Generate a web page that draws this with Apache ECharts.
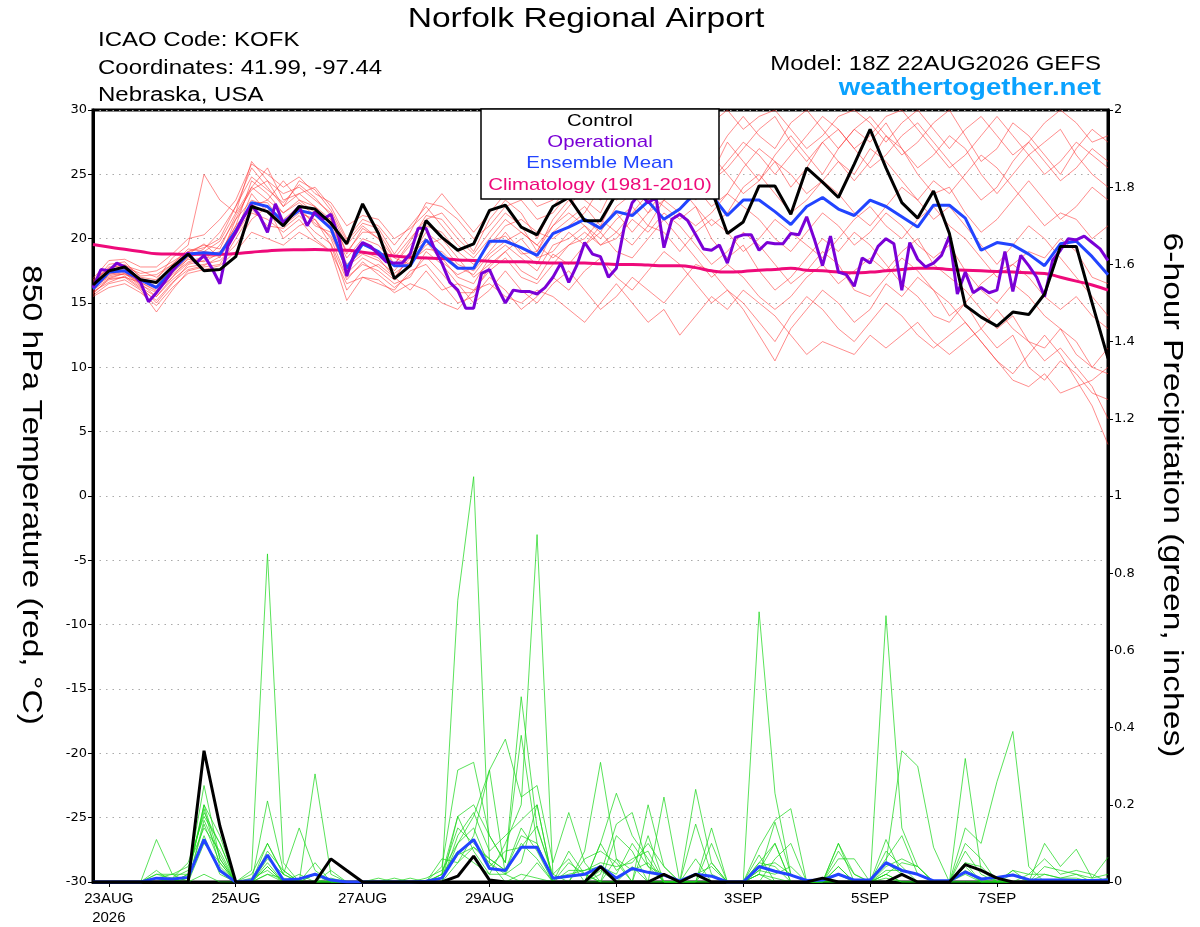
<!DOCTYPE html>
<html><head><meta charset="utf-8">
<script src="https://cdn.jsdelivr.net/npm/echarts@6/dist/echarts.min.js"></script>
<style>html,body{margin:0;padding:0;background:#fff}#c{width:1200px;height:927px}</style>
</head><body><div id="c"></div>
<script>
// ---- data (hours since 22AUG2026 18Z) ----
const xTickHours = [6,54,102,150,198,246,294,342];
const xTickLabels = ['23AUG\n2026','25AUG','27AUG','29AUG','1SEP','3SEP','5SEP','7SEP'];
const stepEns = 6;   // ensemble output every 6 h
const stepOper = 3;  // operational every 3 h

const control = [16.4,17.5,17.8,16.8,16.6,17.8,18.8,17.5,17.6,18.6,22.5,22.1,21.0,22.5,22.3,21.2,19.6,22.7,20.4,16.9,17.9,21.4,20.1,19.1,19.6,22.2,22.6,20.9,20.3,22.5,23.2,21.4,21.4,23.5,24.5,24.0,24.8,24.2,23.6,23.8,20.4,21.3,24.1,24.1,21.9,25.5,24.4,23.2,25.8,28.5,25.5,22.8,21.6,23.7,20.4,14.8,13.9,13.2,14.3,14.1,15.7,19.4,19.4,15.0,10.7];
const ensMean = [16.1,17.4,17.5,16.8,16.2,17.5,18.8,18.9,18.8,20.6,22.8,22.5,21.3,22.2,21.9,20.8,17.7,19.6,19.0,17.9,17.9,19.9,18.7,17.7,17.7,19.8,19.8,19.3,18.7,20.4,20.9,21.5,20.8,22.1,21.8,22.9,21.5,22.3,23.6,23.4,21.8,23.0,23.0,22.1,21.1,22.5,23.2,22.3,21.8,23.0,22.5,21.7,20.9,22.6,22.6,21.6,19.1,19.7,19.5,18.8,17.9,19.6,19.8,18.6,17.2];
const climatology = [19.55,19.35,19.17,19.0,18.83,18.8,18.78,18.78,18.78,18.85,18.95,19.05,19.12,19.14,19.15,19.12,19.1,18.95,18.8,18.65,18.55,18.5,18.45,18.35,18.3,18.25,18.2,18.2,18.15,18.1,18.1,18.1,18.05,18.0,18.0,17.95,17.9,17.9,17.75,17.5,17.4,17.45,17.55,17.6,17.7,17.55,17.5,17.4,17.35,17.4,17.5,17.6,17.7,17.7,17.6,17.55,17.5,17.45,17.4,17.35,17.3,17.0,16.7,16.4,16.0];
const operational = [16.2,17.6,17.5,18.1,17.8,17.3,16.6,15.1,15.8,16.6,17.5,18.3,18.9,18.1,18.7,17.7,16.5,19.4,20.5,21.7,22.6,21.8,20.5,22.7,21.2,21.8,22.5,21.0,22.1,21.5,21.9,20.1,17.1,18.9,19.7,19.4,18.8,18.2,18.1,18.1,18.8,20.8,20.8,19.3,18.1,16.6,16.0,14.6,14.6,17.3,17.6,16.2,15.0,16.0,15.9,15.9,15.7,16.2,17.0,18.1,16.6,17.9,19.7,18.8,18.6,17.0,17.7,20.9,22.8,23.5,22.8,23.2,19.3,21.5,21.9,21.4,20.3,19.2,19.1,19.5,18.1,20.1,20.3,20.3,19.1,19.7,19.6,19.6,20.4,20.3,21.7,19.9,17.9,20.2,17.4,17.2,16.3,18.5,18.1,19.4,20.0,19.6,16.0,19.7,18.4,17.8,18.1,18.7,20.2,15.7,17.4,15.8,16.2,15.8,16.0,19.0,15.9,18.7,17.9,17.0,15.5,18.3,19.1,20.0,19.9,20.2,19.7,19.2,18.3];

const memberTemp1 = [16.0,17.2,17.5,16.5,15.5,17.0,18.5,19.0,18.8,21.0,24.5,23.5,22.0,23.0,22.5,21.5,18.0,19.0,18.5,17.0,18.5,20.5,19.5,18.0,17.5,19.0,20.5,19.0,18.0,20.5,21.5,22.5,21.0,23.5,24.5,23.0,25.0,26.5,24.0,22.5,23.5,25.5,27.0,26.0,24.0,25.5,27.5,26.0,24.5,26.0,28.0,27.0,25.0,23.5,24.0,22.0,20.5,21.5,23.0,24.5,23.0,21.5,22.5,24.0,23.0];
const memberTemp2 = [15.6,16.5,16.8,16.0,14.3,16.0,17.5,17.8,18.0,20.0,22.0,21.5,20.5,21.5,20.0,19.0,15.2,17.0,16.5,16.0,17.5,18.0,16.5,15.0,15.5,17.0,16.0,14.5,15.5,17.0,16.0,17.5,18.5,17.0,16.0,17.5,19.0,18.0,16.5,15.0,16.0,14.5,12.5,10.5,13.0,14.5,16.0,15.0,13.5,14.5,16.5,15.5,17.0,16.0,14.0,15.0,13.0,11.5,12.5,10.0,9.0,10.5,9.5,8.0,7.5];
const memberTemp3 = [16.5,18.0,18.2,17.0,16.8,18.5,19.5,25.0,23.0,22.0,26.0,24.5,23.5,24.0,23.0,22.0,19.5,21.0,20.0,18.5,20.0,21.5,22.0,20.5,19.0,21.5,23.0,22.0,20.0,22.5,24.0,23.0,22.0,24.5,26.0,25.0,27.0,28.5,27.5,26.0,28.0,29.5,28.0,27.0,29.0,30.0,28.5,27.0,28.5,29.5,28.0,26.5,27.5,29.0,30.0,28.0,26.0,27.0,29.0,28.0,26.5,25.0,27.0,28.5,27.5];
const memberTemp4 = [16.2,17.0,17.3,16.3,15.0,16.5,18.0,18.3,19.5,21.5,23.0,22.5,21.0,22.0,21.5,20.0,17.0,18.0,17.5,16.5,17.0,19.0,18.0,16.5,16.0,17.5,18.5,17.0,16.5,18.0,19.5,20.5,19.5,20.0,21.5,20.5,22.0,21.0,19.5,18.0,19.0,20.5,19.5,18.0,16.5,17.5,19.0,18.0,16.0,15.5,17.0,18.5,17.5,16.0,15.0,13.5,12.0,10.5,9.5,11.0,12.5,11.0,9.0,7.0,4.0];
const memberTemp5 = [16.8,17.6,17.8,17.3,17.5,18.2,19.0,19.3,20.0,22.5,25.5,24.0,22.5,23.5,24.0,22.5,20.0,21.5,21.0,19.5,21.0,22.5,21.0,19.5,18.5,20.0,21.5,20.5,19.5,21.0,22.5,24.0,23.0,24.5,25.5,24.0,26.0,25.0,23.0,24.5,26.0,27.5,26.5,25.0,26.5,28.0,29.5,28.5,27.0,25.5,26.5,28.0,29.0,27.5,26.0,24.5,23.0,24.0,26.0,27.5,26.0,24.5,25.5,27.0,26.0];
const memberTemp6 = [15.8,16.8,17.0,16.6,16.0,17.2,18.2,18.6,19.0,20.5,23.5,22.0,21.5,22.5,21.0,20.5,17.5,19.5,19.0,17.5,19.0,20.0,18.5,17.0,16.5,18.5,19.5,18.5,17.5,19.5,20.0,21.0,20.0,21.5,22.5,21.0,23.0,22.0,21.0,22.0,23.5,22.5,21.5,20.0,19.0,20.5,22.0,21.0,19.5,20.5,22.0,21.0,19.5,18.5,19.5,17.5,16.0,15.0,16.5,15.5,14.0,13.0,12.0,10.0,9.5];
const memberTemp7 = [16.4,17.4,17.6,16.8,16.3,17.6,18.8,19.6,18.5,21.5,24.0,25.5,23.0,23.5,22.5,21.0,18.5,20.0,19.5,18.0,19.5,21.0,20.5,19.0,18.0,19.5,21.0,21.5,20.5,20.0,21.0,22.0,24.0,23.0,24.0,25.5,24.5,23.5,25.0,26.5,25.0,23.5,24.5,26.0,25.0,23.5,24.5,26.0,25.0,27.0,26.0,24.5,23.0,24.5,23.5,25.0,26.5,25.5,24.0,22.5,21.0,22.0,21.5,20.0,21.0];
const memberTemp8 = [15.9,16.6,17.1,16.2,15.5,16.8,17.8,18.0,18.3,19.5,21.5,22.5,20.0,21.0,21.5,19.5,16.0,17.5,18.0,17.0,16.0,17.5,16.0,16.5,15.0,16.0,17.5,16.0,15.0,16.5,17.5,16.0,14.5,15.5,17.0,16.0,15.0,16.5,18.0,17.5,16.0,15.0,13.5,12.0,14.0,15.5,14.5,13.0,12.0,13.5,15.0,14.0,12.5,11.5,12.5,13.5,12.0,10.5,9.0,8.5,9.5,8.0,8.5,9.0,10.0];
const memberTemp9 = [16.6,17.8,17.9,17.5,17.0,18.0,19.2,19.0,19.8,22.0,24.0,23.0,24.5,23.0,22.0,21.5,19.0,20.5,20.5,18.5,18.0,19.5,20.0,18.5,17.0,18.0,19.0,20.0,18.5,19.0,20.5,19.5,21.0,22.0,20.5,22.0,23.0,24.0,22.5,21.0,22.0,24.0,25.0,23.5,22.0,23.0,24.5,23.5,22.0,21.0,22.5,24.0,23.0,21.5,22.5,21.0,19.5,18.0,19.5,21.0,20.0,18.5,17.0,15.5,14.0];
const memberTemp10 = [16.1,17.3,17.2,16.9,16.6,17.4,18.4,18.2,18.9,21.0,22.5,23.0,22.0,22.8,21.8,20.8,17.3,18.5,17.8,16.8,18.8,19.8,18.2,17.2,17.8,19.8,20.2,18.8,19.0,21.0,22.0,21.0,19.5,20.5,22.0,23.5,22.5,21.5,22.5,20.0,18.5,19.5,17.5,16.0,17.0,18.5,20.0,19.0,20.5,19.5,18.0,16.5,15.5,14.0,13.5,15.0,16.5,17.5,18.0,19.0,18.5,20.0,19.0,17.0,16.5];
const memberTemp11 = [15.5,16.2,16.5,15.8,14.8,16.2,17.3,17.6,17.9,19.0,20.5,20.0,19.5,20.5,19.8,19.0,16.5,17.0,16.8,15.8,16.5,16.0,15.0,14.5,16.0,16.5,15.5,15.0,16.0,15.5,14.5,13.5,15.0,16.5,15.0,13.5,14.5,12.5,14.0,15.5,14.5,16.0,15.0,14.0,12.5,11.0,12.0,11.5,11.0,12.5,11.5,12.5,13.5,12.0,11.0,12.0,13.0,14.5,13.0,12.0,11.5,13.0,11.0,10.0,11.5];
const memberTemp12 = [16.9,18.3,18.4,17.8,17.8,18.8,20.0,20.3,21.5,23.0,25.8,25.0,24.0,24.8,23.5,22.8,21.0,21.8,21.5,20.0,20.8,22.0,23.5,22.0,20.5,22.0,23.5,24.0,22.5,23.0,24.5,25.5,26.5,25.5,27.0,28.5,27.5,26.0,27.5,29.0,30.0,28.5,29.5,30.0,28.5,27.0,28.0,29.5,30.0,29.0,27.5,29.0,30.0,28.5,27.0,28.5,29.5,28.0,26.5,27.5,29.0,30.0,29.0,27.5,28.0];
const memberTemp13 = [16.3,17.1,17.4,16.4,15.8,17.3,18.6,19.2,20.5,22.5,24.8,23.8,22.8,24.2,23.2,21.8,18.8,20.8,20.0,18.0,19.8,21.8,21.5,20.0,18.8,20.5,22.0,21.0,19.0,21.5,23.0,21.5,20.5,22.5,23.5,22.0,24.0,25.5,26.5,25.0,27.5,26.0,24.5,26.5,28.0,26.5,25.0,27.0,28.5,27.5,29.0,27.0,25.5,26.5,28.0,27.0,25.0,23.5,25.0,26.5,27.5,28.5,26.5,25.0,24.0];
const memberTemp14 = [15.7,16.9,17.0,16.1,15.2,16.6,17.6,17.9,18.6,20.3,22.3,21.0,20.8,21.8,20.5,19.6,16.8,18.2,17.2,16.2,17.2,18.6,17.3,15.8,15.8,17.8,19.0,17.5,16.8,18.8,18.0,19.5,20.5,19.0,18.5,20.0,21.5,20.0,18.5,17.0,18.0,17.0,15.5,14.5,15.5,17.0,18.0,16.5,17.5,18.5,17.5,19.0,20.0,18.0,17.0,16.0,14.5,13.0,14.0,12.0,10.5,11.5,10.0,8.5,6.0];
const memberTemp15 = [16.7,17.7,18.0,17.1,17.2,18.0,19.0,19.5,19.2,21.8,23.8,24.5,22.5,24.5,23.8,22.2,19.8,21.2,20.8,18.8,20.5,22.8,22.5,21.5,20.0,21.0,22.5,23.0,21.5,22.0,23.5,24.5,25.5,24.0,25.0,26.5,26.0,27.5,26.0,24.5,25.5,27.0,28.5,29.5,27.5,26.0,27.5,28.5,27.0,28.0,29.5,30.0,28.5,27.0,25.5,26.5,28.0,29.5,28.0,26.5,25.0,26.0,27.5,26.5,25.5];
const memberTemp16 = [16.0,16.9,17.3,16.6,15.9,17.0,18.1,18.5,18.7,20.8,22.8,22.8,21.2,22.2,21.2,20.2,17.8,18.8,18.3,17.3,18.2,19.2,19.0,17.8,17.2,18.8,19.8,20.5,19.5,18.5,19.5,20.0,21.5,20.5,19.5,21.0,20.5,19.0,20.5,21.5,20.5,19.0,20.0,21.5,20.5,19.5,18.5,20.0,21.5,22.5,21.0,20.0,21.5,22.5,21.0,20.0,18.5,17.0,18.0,17.0,15.5,14.5,15.5,14.0,13.0];

const controlPrecip = [0,0,0,0,0,0,0,0.34,0.145,0,0,0,0,0,0,0.06,0.03,0,0,0,0,0,0,0.015,0.067,0.005,0,0,0,0,0,0,0.04,0,0,0,0.02,0,0.02,0,0,0,0,0,0,0,0.01,0,0,0,0,0.02,0,0,0,0.045,0.03,0.01,0,0,0,0,0,0,0];
const meanPrecip = [0,0,0,0,0.01,0.008,0.012,0.11,0.03,0,0.004,0.07,0.005,0.008,0.02,0.005,0,0,0,0,0,0.002,0.01,0.075,0.11,0.035,0.03,0.09,0.09,0.01,0.015,0.02,0.04,0.01,0.035,0.025,0.018,0.003,0.02,0.015,0,0,0.04,0.028,0.018,0.004,0.005,0.02,0.005,0.005,0.05,0.03,0.02,0.003,0.003,0.026,0.008,0.012,0.018,0.006,0.005,0.005,0.004,0.004,0.005];
const memberPrecip1 = [0,0,0,0,0,0,0,0.02,0,0,0,0.02,0,0,0,0,0,0,0,0,0,0,0.01,0.73,1.05,0.05,0,0.02,0.01,0,0,0,0.03,0,0,0,0,0,0,0,0,0,0.02,0,0,0,0,0,0,0,0.01,0,0,0,0,0,0,0,0,0,0,0,0,0,0];
const memberPrecip2 = [0,0,0,0,0,0,0.02,0.2,0.06,0,0.03,0.85,0.05,0,0,0,0,0,0,0,0,0,0,0.05,0.12,0.29,0.02,0,0.05,0,0,0,0.02,0.15,0.18,0.04,0,0,0.02,0,0,0,0.05,0.1,0,0,0,0,0,0,0.02,0,0,0,0,0.04,0,0,0,0,0,0,0,0,0];
const memberPrecip3 = [0,0,0,0,0.11,0.02,0,0.15,0.05,0,0,0.21,0.03,0,0,0,0,0,0,0,0,0,0,0.17,0.08,0.02,0.1,0.2,0.9,0.02,0,0,0,0,0,0.2,0.04,0,0,0,0,0,0.07,0,0,0,0,0.04,0,0,0.11,0.02,0,0,0,0,0,0,0,0,0,0,0,0,0];
const memberPrecip4 = [0,0,0,0,0.02,0.01,0.03,0.18,0.1,0,0,0.1,0.02,0.14,0.03,0,0,0,0,0.01,0,0,0.04,0.29,0.31,0.12,0.05,0.38,0.1,0,0,0.08,0.31,0.06,0,0,0.22,0,0,0.14,0,0,0.7,0.23,0.02,0,0,0.1,0,0,0.69,0.14,0.04,0,0,0,0,0,0,0,0,0,0,0,0];
const memberPrecip5 = [0,0,0,0,0.03,0,0.01,0.2,0.12,0,0,0.05,0,0,0.28,0.02,0,0,0,0,0,0,0,0.1,0.17,0.29,0.37,0.22,0.25,0.05,0.18,0.05,0,0,0.04,0,0,0,0.24,0.05,0,0,0.09,0.16,0.19,0,0,0,0,0,0.05,0.34,0.3,0.09,0,0.32,0.03,0,0,0,0,0,0,0,0];
const memberPrecip6 = [0,0,0,0,0.01,0.02,0.04,0.14,0.08,0,0,0.08,0.03,0,0.05,0,0,0,0,0,0,0,0.02,0.17,0.2,0.12,0.05,0.48,0.14,0.02,0.06,0,0.1,0.23,0.12,0.06,0,0,0.06,0,0,0,0.04,0.05,0.02,0,0,0.04,0,0,0.02,0.05,0.04,0,0,0.14,0.1,0.26,0.39,0.04,0,0,0,0,0];
const memberPrecip7 = [0,0,0,0,0,0.01,0.05,0.17,0.1,0,0.01,0.03,0,0.02,0,0.01,0,0,0.01,0,0,0,0.06,0.05,0.09,0.06,0.03,0.12,0.1,0,0.03,0.03,0.05,0.04,0.05,0.1,0.04,0,0,0,0,0,0.03,0.02,0.04,0,0,0.06,0.06,0,0.03,0.03,0.02,0,0,0.05,0.04,0,0.02,0,0.1,0.04,0.085,0.01,0.064];
const memberPrecip8 = [0,0,0,0,0.02,0.02,0.02,0.25,0.06,0,0.02,0.1,0.02,0,0.02,0,0,0,0,0,0,0.01,0.03,0.1,0.14,0.04,0.08,0.09,0.145,0.01,0.02,0.03,0.04,0.02,0.1,0.04,0.02,0,0.02,0.04,0,0,0.02,0.155,0.02,0,0.01,0.02,0,0,0.05,0.02,0,0,0,0.05,0,0,0.03,0.02,0.02,0.01,0.02,0.01,0.02];
const memberPrecip9 = [0,0,0,0,0.01,0,0.02,0.19,0.04,0,0,0.04,0,0,0,0.03,0,0,0,0,0.01,0,0.02,0.08,0.05,0.02,0.02,0.05,0.2,0,0,0,0.1,0.03,0.06,0.08,0,0,0.02,0,0,0,0.05,0.04,0,0,0,0.08,0.02,0,0.02,0,0,0,0,0.03,0,0,0,0.02,0.06,0.02,0.03,0.02,0];
const memberPrecip10 = [0,0,0,0,0,0,0.01,0.12,0.02,0,0,0.02,0.01,0,0,0,0,0,0,0,0,0,0.01,0.07,0.09,0.05,0.02,0.1,0.06,0,0.05,0.02,0,0.06,0.03,0.05,0,0,0,0.05,0,0,0.02,0.01,0,0,0,0.02,0,0,0.08,0.04,0,0,0,0.02,0,0.01,0,0,0.02,0.01,0.01,0,0.01];
const memberPrecip11 = [0,0,0,0,0,0,0,0.1,0.05,0,0,0.04,0,0,0.02,0,0,0,0,0,0,0,0.02,0.14,0.1,0.06,0.03,0.14,0.08,0,0,0.06,0.08,0.05,0,0.12,0,0,0,0.1,0,0,0.03,0.1,0,0,0,0.1,0.02,0,0.06,0.12,0.02,0,0,0.1,0.06,0,0.03,0,0.04,0.03,0.02,0,0];
const memberPrecip12 = [0,0,0,0,0,0,0,0.16,0.07,0,0,0.06,0.02,0,0,0,0,0,0,0,0,0,0,0.12,0.18,0.08,0.12,0.16,0.2,0,0.08,0.02,0,0.12,0.08,0,0,0,0.15,0.02,0,0,0,0.06,0.1,0,0,0,0,0,0.04,0.06,0.04,0,0,0.08,0.02,0,0,0,0,0,0,0,0];

const memberTemps = [memberTemp1,memberTemp2,memberTemp3,memberTemp4,memberTemp5,memberTemp6,memberTemp7,memberTemp8,memberTemp9,memberTemp10,memberTemp11,memberTemp12,memberTemp13,memberTemp14,memberTemp15,memberTemp16];
const memberPrecips = [memberPrecip1,memberPrecip2,memberPrecip3,memberPrecip4,memberPrecip5,memberPrecip6,memberPrecip7,memberPrecip8,memberPrecip9,memberPrecip10,memberPrecip11,memberPrecip12];

// ---- chart ----
const FONT = '"Liberation Sans", Arial, sans-serif';
const TICKFONT = '"DejaVu Sans", sans-serif';
const SX = 1.2; // horizontal stretch of the reference lettering
const toXY = (arr, step) => arr.map((v, i) => [i * step, v]);
const series = [];
memberTemps.forEach(m => series.push({type:'line', data: toXY(m, stepEns), yAxisIndex:0, symbol:'none', silent:true,
  lineStyle:{color:'rgba(255,50,50,0.7)', width:0.8}, z:2}));
memberPrecips.forEach(m => series.push({type:'line', data: toXY(m, stepEns), yAxisIndex:1, symbol:'none', silent:true,
  lineStyle:{color:'rgba(25,215,25,0.9)', width:0.8}, z:3}));
series.push({type:'line', name:'Climatology', data: toXY(climatology, stepEns), yAxisIndex:0, symbol:'none', smooth:true, lineStyle:{color:'#ee0a7a', width:3}, z:5});
series.push({type:'line', name:'Mean precip', data: toXY(meanPrecip, stepEns), yAxisIndex:1, symbol:'none', lineStyle:{color:'#2244ff', width:3}, z:6});
series.push({type:'line', name:'Control precip', data: toXY(controlPrecip, stepEns), yAxisIndex:1, symbol:'none', lineStyle:{color:'#000', width:3}, z:7});
series.push({type:'line', name:'Ensemble Mean', data: toXY(ensMean, stepEns), yAxisIndex:0, symbol:'none', lineStyle:{color:'#2244ff', width:3}, z:6});
series.push({type:'line', name:'Operational', data: toXY(operational, stepOper), yAxisIndex:0, symbol:'none', lineStyle:{color:'#7a00d6', width:3}, z:7});
series.push({type:'line', name:'Control', data: toXY(control, stepEns), yAxisIndex:0, symbol:'none', lineStyle:{color:'#000', width:3}, z:8});

function txt(x, y, text, font, color, align, extra) {
  return Object.assign({type:'text', z:101, x:x, y:y, scaleX:SX,
    style:{text:text, font:font, fill:color, align:align, verticalAlign:'middle'}}, extra || {});
}

const chart = echarts.init(document.getElementById('c'), null, {renderer:'canvas'});
chart.setOption({
  animation:false,
  backgroundColor:'#fff',
  grid:{left:93, right:92, top:110, bottom:44, show:true, borderColor:'#000', borderWidth:3, backgroundColor:'transparent'},
  xAxis:{type:'value', min:0, max:384,
    axisLine:{show:true, onZero:false, lineStyle:{color:'#000', width:3}},
    axisTick:{show:true, length:5, lineStyle:{color:'#000', width:1}, customValues: xTickHours},
    axisLabel:{color:'#000', fontFamily:FONT, fontSize:15, margin:7, lineHeight:19, customValues: xTickHours,
      formatter: v => { const k = xTickHours.indexOf(v); return k >= 0 ? xTickLabels[k] : ''; }},
    splitLine:{show:false}},
  yAxis:[
    {type:'value', min:-30, max:30, interval:5, position:'left',
     axisLine:{show:true, onZero:false, lineStyle:{color:'#000', width:3}},
     axisTick:{show:true, length:5, lineStyle:{color:'#000'}},
     axisLabel:{color:'#000', fontFamily:TICKFONT, fontSize:13, margin:6},
     splitLine:{show:true, lineStyle:{color:'#aaaaaa', type:[1.5,5], width:1.2}}},
    {type:'value', min:0, max:2, interval:0.2, position:'right',
     axisLine:{show:true, onZero:false, lineStyle:{color:'#000', width:3}},
     axisTick:{show:true, length:5, lineStyle:{color:'#000'}},
     axisLabel:{color:'#000', fontFamily:TICKFONT, fontSize:13, margin:6},
     splitLine:{show:false}}
  ],
  series: series,
  graphic:[
    txt(586, 19, 'Norfolk Regional Airport', '28px '+FONT, '#000', 'center'),
    txt(98, 40, 'ICAO Code: KOFK', '20px '+FONT, '#000', 'left'),
    txt(98, 68, 'Coordinates: 41.99, -97.44', '20px '+FONT, '#000', 'left'),
    txt(98, 95, 'Nebraska, USA', '20px '+FONT, '#000', 'left'),
    txt(1101, 64, 'Model: 18Z 22AUG2026 GEFS', '20px '+FONT, '#000', 'right'),
    txt(1101, 89, 'weathertogether.net', 'bold 23px '+FONT, '#0aa2ff', 'right'),
    {type:'rect', z:100, shape:{x:481, y:109, width:238, height:90}, style:{fill:'#fff', stroke:'#000', lineWidth:1.5}},
    txt(600, 121, 'Control', '17px '+FONT, '#000', 'center'),
    txt(600, 142, 'Operational', '17px '+FONT, '#7a00d6', 'center'),
    txt(600, 163, 'Ensemble Mean', '17px '+FONT, '#2244ff', 'center'),
    txt(600, 185, 'Climatology (1981-2010)', '17px '+FONT, '#ee0a7a', 'center'),
    txt(31, 495, '850 hPa Temperature (red, °C)', '28px '+FONT, '#000', 'center', {rotation:-Math.PI/2}),
    txt(1172, 495, '6-hour Precipitation (green, inches)', '28px '+FONT, '#000', 'center', {rotation:-Math.PI/2})
  ]
});
</script></body></html>
